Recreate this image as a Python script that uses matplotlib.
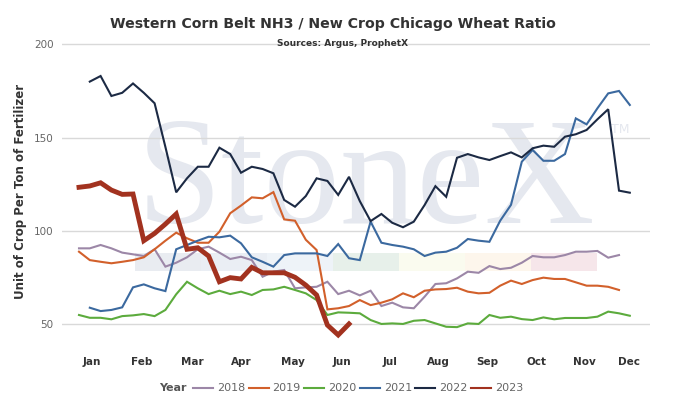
import numpy as np
import matplotlib.pyplot as plt
from matplotlib.lines import Line2D
from matplotlib.patches import Rectangle

nan = np.nan

# weekly ratios, one list per year (index = week slot)
years = ['2018', '2019', '2020', '2021', '2022', '2023']
colors = ['#9c87a7', '#d2602b', '#5cab3d', '#3b699f', '#1c2a44', '#a2321f']
widths = [1.5, 1.5, 1.5, 1.5, 1.5, 3.5]

months = ['Jan', 'Feb', 'Mar', 'Apr', 'May', 'Jun',
          'Jul', 'Aug', 'Sep', 'Oct', 'Nov', 'Dec']
month_pos = [1.18, 5.8, 10.53, 15.07, 19.78, 24.32,
             28.8, 33.25, 37.82, 42.36, 46.76, 50.95]

y2018 = [90.7, 90.7, 92.5, 90.7, 88.4, 87.5, 86.6, 90.2, 80.9, 83,
         85.9, 90.2, 91.6, 88.4, 85, 86.2, 84.4, 75.5, 78.2, 79.1,
         69.3, 69.8, 70.1, 72.8, 66.2, 68, 65.5, 68, 59.8, 61.6,
         59.1, 58.6, 64.8, 71.6, 72, 74.6, 78.2, 77.6, 81.2, 79.6,
         80.3, 83, 86.6, 85.9, 85.9, 87.1, 88.9, 88.9, 89.3, 85.7, 87.1]
y2019 = [88.9, 84.4, 83.5, 82.7, 83.5, 84.4, 85.9, 90.2, 94.8, 99.1,
         96.1, 93.7, 93.7, 99.6, 109.5, 113.6, 118, 117.5, 120.8, 106.2,
         105.5, 95.3, 89.8, 58, 58.6, 59.8, 63, 60.3, 61.6, 63.4,
         66.6, 64.5, 68, 68.7, 68.9, 69.6, 67.5, 66.6, 66.9, 70.7,
         73.4, 71.6, 73.7, 75, 74.3, 74.3, 72.5, 70.7, 70.7, 70.1, 68.4]
y2020 = [55, 53.5, 53.5, 52.7, 54.4, 54.8, 55.5, 54.4, 57.7, 66.1,
         72.8, 69.3, 66.2, 68, 66.2, 67.5, 65.7, 68.4, 68.7, 70.1,
         68.4, 66.6, 63, 55, 56.4, 56.2, 55.9, 52.3, 50.2, 50.5,
         50.2, 51.9, 52.3, 50.5, 48.7, 48.5, 50.5, 50.2, 55, 53.5,
         54.1, 52.8, 52.3, 53.7, 52.7, 53.4, 53.4, 53.4, 54.1, 56.8, 55.9, 54.6]
y2021 = [nan, 58.9, 57.1, 57.7, 59.1, 69.8, 71.4, 69.3, 67.8, 90.2,
         92.5, 94.8, 96.9, 96.6, 97.5, 93.4, 85.9, 83.5, 80.9, 87.1,
         88, 88, 88, 86.6, 93, 85.4, 84.4, 105, 93.7, 92.5,
         91.6, 90.2, 86.6, 88.4, 88.9, 91, 95.7, 94.8, 94.2, 105.5,
         114, 137.1, 143.4, 137.6, 137.6, 141.2, 160.3, 157.1, 165.7, 173.7, 175, 167.5]
y2022 = [nan, 180, 183, 172.3, 174, 179, 174, 168.4, 145, 120.7,
         128.2, 134.4, 134.4, 144.6, 141.2, 131.2, 134.4, 133.2, 130.9, 116.6,
         113, 118.7, 128.2, 126.8, 119.3, 129, 116, 105.3, 109.1, 104.4,
         102, 105, 113.9, 124, 118.3, 139.2, 141.2, 139.4, 138, 140.1,
         142.1, 139.4, 144.3, 145.7, 145.1, 150.5, 151.8, 154.1, 159.8, 165.2, 121.6, 120.5]
y2023 = [123.4, 124.1, 125.8, 121.9, 119.6, 119.8, 94.8, 98.7, 103.7, 109.1,
         90.2, 91, 86.6, 72.8, 75, 74.3, 80.5, 77.6, 77.6, 77.6,
         75.2, 71, 65.7, 49.6, 44.3, 50.2]
series = [y2018, y2019, y2020, y2021, y2022, y2023]

W, H = 675, 415
fig = plt.figure(figsize=(W / 100, H / 100), dpi=100)


def fx(px):
    return px / W


def fy(py):
    return 1 - py / H


ax = fig.add_axes([fx(62), fy(343), fx(650) - fx(62), fy(42.4) - fy(343)])
ax.set_facecolor('none')

# watermark behind the axes
fig.text(fx(366), fy(223), 'StoneX', family='Liberation Serif', size=110,
         color='#e5e8ef', ha='center', va='baseline', zorder=-2)
fig.text(fx(611), fy(133), 'TM', size=9, color='#e5e8ef', zorder=-2)
band = ['#e9ecf1', '#eaeef4', '#eef3f8', '#e7f0ea', '#fafbef', '#fdf6ec', '#f6e6ea']
for k, c in enumerate(band):
    fig.add_artist(Rectangle((fx(135 + 66 * k), fy(270.7)), 66 / W, 18 / H,
                             transform=fig.transFigure, color=c, lw=0, zorder=-1))

for vals, c, lw in zip(series, colors, widths):
    ax.plot(np.arange(len(vals)), vals, color=c, lw=lw, solid_joinstyle='miter')

ax.set_xlim(-1.574, 52.87)
ax.set_ylim(40, 201)
ax.set_yticks([50, 100, 150, 200])
ax.grid(axis='y', color='#d9d9d9', lw=1)
ax.set_axisbelow(True)
ax.set_xticks(month_pos)
ax.set_xticklabels(months, fontweight='bold', color='#333333')
ax.tick_params(axis='x', length=0, pad=10, labelsize=7.5)
ax.tick_params(axis='y', length=0, pad=6, labelsize=7.5, labelcolor='#666666')
for s in ax.spines.values():
    s.set_visible(False)

fig.text(fx(333), fy(24), 'Western Corn Belt NH3 / New Crop Chicago Wheat Ratio',
         ha='center', va='center', fontweight='bold', size=10.2, color='#333333')
fig.text(fx(343), fy(43), 'Sources: Argus, ProphetX', ha='center', va='center',
         fontweight='bold', size=6.5, color='#333333')
fig.text(fx(21), fy(191), 'Unit of Crop Per Ton of Fertilizer', rotation=90,
         ha='center', va='center', fontweight='bold', size=8.5, color='#333333')

# legend row
ly = fy(388)
fig.text(fx(159), ly, 'Year', ha='left', va='center', fontweight='bold',
         size=8, color='#555555')
for k, (yr, c) in enumerate(zip(years, colors)):
    x0 = 193 + 55.6 * k
    fig.add_artist(Line2D([fx(x0), fx(x0 + 20)], [ly, ly], color=c, lw=1.5,
                          transform=fig.transFigure))
    fig.text(fx(x0 + 24), ly, yr, ha='left', va='center', size=8, color='#666666')

fig.savefig('out.png', dpi=100, facecolor='white')
